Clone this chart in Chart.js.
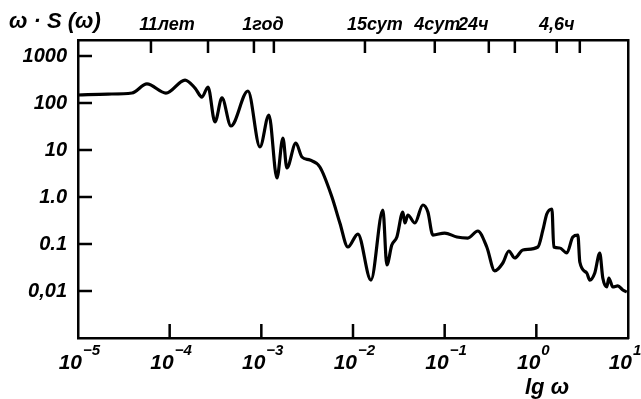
<!DOCTYPE html>
<html>
<head>
<meta charset="utf-8">
<script src="https://cdn.jsdelivr.net/npm/chart.js@4"></script>
<style>
  html, body { margin: 0; padding: 0; background: #fff; }
</style>
</head>
<body>
<canvas id="spectrum-chart" width="641" height="399"></canvas>
<script>
// frequency (lg axis) and spectral density
const omega = [1.0e-5, 2.12e-5, 3.88e-5, 5.65e-5, 9.11e-5, 1.47e-4, 1.89e-4, 2.25e-4, 2.62e-4, 3.12e-4,
  3.72e-4, 4.66e-4, 7.15e-4, 9.66e-4, 1.21e-3, 1.48e-3, 1.72e-3, 1.90e-3, 2.38e-3, 2.77e-3,
  3.39e-3, 4.35e-3, 5.89e-3, 7.19e-3, 8.80e-3, 1.13e-2, 1.57e-2, 2.12e-2, 2.34e-2, 2.65e-2,
  3.01e-2, 3.50e-2, 3.68e-2, 3.97e-2, 4.73e-2, 5.78e-2, 6.56e-2, 7.43e-2, 0.100, 0.136,
  0.179, 0.230, 0.288, 0.352, 0.431, 0.501, 0.582, 0.713, 1.04, 1.18,
  1.30, 1.48, 1.55, 1.80, 2.15, 2.50, 2.84, 2.98, 3.55, 3.83,
  4.34, 4.92, 5.31, 5.87, 6.18, 6.83, 7.74, 8.78, 9.70];
const spectrum = [148, 155, 163, 254, 163, 308, 208, 134, 219, 39.5,
  128, 32.4, 180, 11.6, 55.6, 2.54, 18.0, 4.14, 14.1, 7.10,
  6.12, 4.35, 1.0, 0.280, 0.0863, 0.163, 0.0171, 0.528, 0.0357, 0.095,
  0.141, 0.480, 0.280, 0.414, 0.280, 0.676, 0.480, 0.155, 0.171, 0.141,
  0.134, 0.189, 0.0863, 0.0267, 0.0394, 0.0710, 0.0504, 0.0745, 0.0863, 0.199,
  0.435, 0.556, 0.0863, 0.0822, 0.0644, 0.141, 0.155, 0.0414, 0.0242, 0.0171,
  0.0242, 0.0644, 0.0189, 0.0122, 0.0189, 0.0122, 0.0128, 0.0105, 0.0095];

const xTicks = [1e-5, 1e-4, 1e-3, 1e-2, 1e-1, 1, 10];
const xTickExps = ["-5", "-4", "-3", "-2", "-1", "0", "1"];
const yTicks = [0.01, 0.1, 1, 10, 100, 1000];
const yTickLabels = ["0,01", "0.1", "1.0", "10", "100", "1000"];

// periods on the top axis
const periodTicks = [6.25e-5, 2.62e-4, 8.3e-4, 1.37e-3, 1.35e-2, 7.8e-2, 0.303, 0.583, 1.67, 2.98];
const periodLabelAt = [9.35e-5, 1.04e-3, 1.73e-2, 8.3e-2, 0.205, 1.67];
const periodLabels = ["11лет", "1год", "15сут", "4сут", "24ч", "4,6ч"];

const FONT = '"Liberation Sans", Arimo, sans-serif';

const points = omega.map((w, i) => ({ x: w, y: spectrum[i] }));

// ticks of the drawing point inwards; powers of ten and axis captions
const inwardTicks = {
  id: "inwardTicks",
  afterDraw(chart) {
    const { ctx, chartArea, scales } = chart;
    ctx.save();
    ctx.strokeStyle = "#000";
    ctx.lineWidth = 2.5;
    ctx.beginPath();
    xTicks.slice(1, -1).forEach((v) => {
      const px = scales.x.getPixelForValue(v);
      ctx.moveTo(px, chartArea.bottom);
      ctx.lineTo(px, chartArea.bottom - 14);
    });
    yTicks.forEach((v) => {
      const py = scales.y.getPixelForValue(v);
      ctx.moveTo(chartArea.left, py);
      ctx.lineTo(chartArea.left + 14, py);
    });
    periodTicks.forEach((v) => {
      const px = scales.x2.getPixelForValue(v);
      ctx.moveTo(px, chartArea.top);
      ctx.lineTo(px, chartArea.top + 13);
    });
    ctx.stroke();

    ctx.fillStyle = "#000";
    ctx.textBaseline = "alphabetic";
    xTicks.forEach((v, i) => {
      const px = scales.x.getPixelForValue(v);
      ctx.font = "italic bold 21px " + FONT;
      ctx.textAlign = "right";
      ctx.fillText("10", px + 4, chartArea.bottom + 31);
      ctx.font = "italic bold 15px " + FONT;
      ctx.textAlign = "left";
      ctx.fillText(xTickExps[i].replace("-", "−"), px + 5, chartArea.bottom + 17);
    });

    ctx.font = "italic bold 22px " + FONT;
    ctx.textAlign = "left";
    ctx.fillText("ω · S (ω)", 9, 28);
    ctx.textAlign = "center";
    ctx.fillText("lg ω", 547, 394);
    ctx.restore();
  },
};

const tickFont = { family: FONT, size: 20, style: "italic", weight: "bold" };
const noSidePadding = (s, h) => {
  s.height = h;
  s.paddingLeft = 0;
  s.paddingRight = 0;
};

new Chart(document.getElementById("spectrum-chart"), {
  type: "line",
  data: {
    datasets: [
      {
        data: points,
        borderColor: "#000",
        borderWidth: 3.2,
        pointRadius: 0,
        fill: false,
        cubicInterpolationMode: "monotone",
      },
    ],
  },
  options: {
    responsive: false,
    devicePixelRatio: 1,
    animation: false,
    layout: { padding: 0 },
    plugins: {
      legend: { display: false },
      tooltip: { enabled: false },
    },
    scales: {
      x: {
        type: "logarithmic",
        position: "bottom",
        min: 1e-5,
        max: 10,
        afterBuildTicks: (s) => { s.ticks = xTicks.map((v) => ({ value: v })); },
        afterFit: (s) => noSidePadding(s, 61),
        ticks: { display: false },
        grid: { display: false },
        border: { display: true, color: "#000", width: 2.5 },
      },
      x2: {
        type: "logarithmic",
        position: "top",
        min: 1e-5,
        max: 10,
        afterBuildTicks: (s) => { s.ticks = periodLabelAt.map((v) => ({ value: v })); },
        afterFit: (s) => noSidePadding(s, 40),
        ticks: {
          callback: (v, i) => periodLabels[i],
          autoSkip: false,
          maxRotation: 0,
          padding: -4,
          color: "#000",
          font: { family: FONT, size: 18, style: "italic", weight: "bold" },
        },
        grid: { display: false },
        border: { display: true, color: "#000", width: 2.5 },
      },
      y: {
        type: "logarithmic",
        position: "left",
        min: 0.001,
        max: 2190,
        afterBuildTicks: (s) => { s.ticks = yTicks.map((v) => ({ value: v })); },
        afterFit: (s) => { s.width = 78; },
        ticks: {
          callback: (v, i) => yTickLabels[i],
          autoSkip: false,
          padding: 3,
          color: "#000",
          font: tickFont,
        },
        grid: { display: false },
        border: { display: true, color: "#000", width: 2.5 },
      },
      y2: {
        type: "linear",
        position: "right",
        afterFit: (s) => { s.width = 13; },
        ticks: { display: false },
        grid: { display: false },
        border: { display: true, color: "#000", width: 2.5 },
      },
    },
  },
  plugins: [inwardTicks],
});
</script>
</body>
</html>
